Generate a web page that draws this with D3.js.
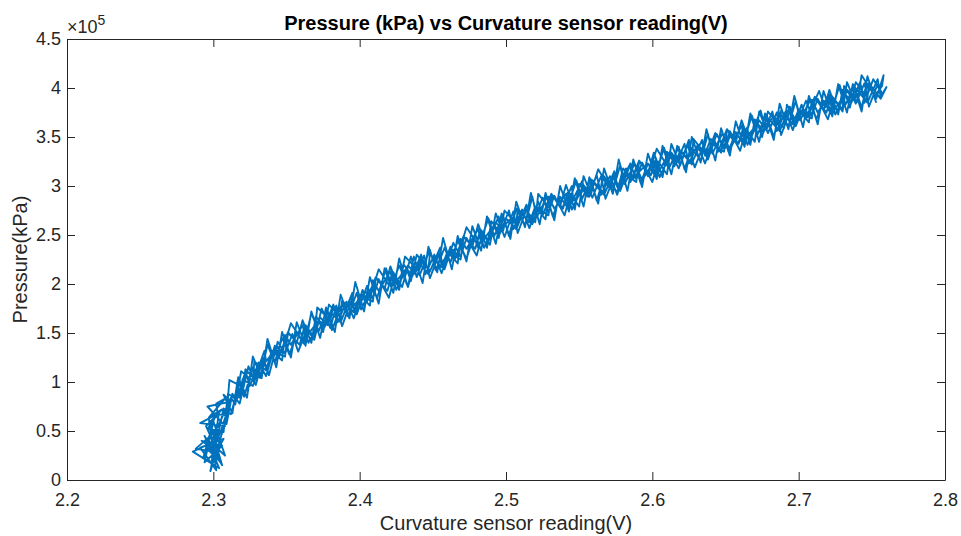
<!DOCTYPE html>
<html>
<head>
<meta charset="utf-8">
<script src="https://cdn.jsdelivr.net/npm/d3@7"></script>
<style>
  body { margin: 0; background: #fff; }
  svg { display: block; font-family: "Liberation Sans", Arial, Helvetica, sans-serif; }
</style>
</head>
<body>
<script>
// DATA ––––––––––––––––––––––––––––––––––––––––––––––––––––––––––––––––

  // [sensor reading (V), pressure (x 10^5)], in drawing order
  var sweepUp1 = [
    [2.301,0.55],[2.303,0.54],[2.312,0.84],[2.315,0.77],[2.319,1.11],[2.327,1.01],[2.328,1.21],[2.336,1.12],
    [2.340,1.32],[2.347,1.22],[2.349,1.48],[2.353,1.38],[2.361,1.58],[2.363,1.45],[2.372,1.63],[2.375,1.51],
    [2.379,1.79],[2.387,1.66],[2.388,1.83],[2.396,1.71],[2.400,1.89],[2.407,1.78],[2.409,2.04],[2.413,1.93],
    [2.421,2.13],[2.423,1.99],[2.432,2.16],[2.435,2.03],[2.439,2.30],[2.447,2.15],[2.448,2.31],[2.456,2.17],
    [2.460,2.33],[2.467,2.21],[2.469,2.46],[2.473,2.36],[2.481,2.56],[2.483,2.42],[2.492,2.60],[2.495,2.47],
    [2.499,2.75],[2.507,2.61],[2.508,2.77],[2.516,2.63],[2.520,2.79],[2.527,2.66],[2.529,2.89],[2.533,2.77],
    [2.541,2.92],[2.543,2.78],[2.552,3.05],[2.555,2.90],[2.559,3.06],[2.567,2.92],[2.568,3.07],[2.576,2.94],
    [2.580,3.18],[2.587,3.06],[2.589,3.20],[2.593,3.06],[2.601,3.25],[2.603,3.11],[2.612,3.35],[2.615,3.20],
    [2.619,3.36],[2.627,3.22],[2.628,3.48],[2.636,3.33],[2.640,3.48],[2.647,3.34],[2.649,3.50],[2.653,3.37],
    [2.661,3.62],[2.663,3.47],[2.672,3.64],[2.675,3.50],[2.679,3.76],[2.687,3.61],[2.688,3.77],[2.696,3.63],
    [2.700,3.78],[2.707,3.65],[2.709,3.88],[2.713,3.75],[2.721,3.93],[2.723,3.75],[2.732,3.94],[2.735,3.80],
    [2.739,4.06],[2.747,3.90],[2.748,4.05],[2.756,3.89],[2.760,4.01]
  ];

  var sweepDown1 = [
    [2.756,3.91],[2.754,4.09],[2.747,3.85],[2.740,3.98],[2.738,3.87],[2.733,3.97],[2.725,3.73],[2.722,3.90],
    [2.719,3.75],[2.711,3.90],[2.709,3.69],[2.701,3.77],[2.696,3.65],[2.694,3.81],[2.687,3.56],[2.680,3.68],
    [2.678,3.57],[2.673,3.67],[2.665,3.42],[2.662,3.59],[2.659,3.43],[2.651,3.57],[2.649,3.35],[2.641,3.43],
    [2.636,3.31],[2.634,3.47],[2.627,3.23],[2.620,3.35],[2.618,3.24],[2.613,3.34],[2.605,3.09],[2.602,3.26],
    [2.599,3.11],[2.591,3.25],[2.589,3.04],[2.581,3.12],[2.576,2.99],[2.574,3.15],[2.567,2.91],[2.560,3.03],
    [2.558,2.91],[2.553,3.01],[2.545,2.76],[2.542,2.93],[2.539,2.77],[2.531,2.91],[2.529,2.70],[2.521,2.78],
    [2.516,2.65],[2.514,2.81],[2.507,2.56],[2.500,2.67],[2.498,2.54],[2.493,2.63],[2.485,2.37],[2.482,2.53],
    [2.479,2.36],[2.471,2.48],[2.469,2.25],[2.461,2.32],[2.456,2.19],[2.454,2.32],[2.447,2.10],[2.440,2.22],
    [2.438,2.10],[2.433,2.19],[2.425,1.94],[2.422,2.10],[2.419,1.93],[2.411,2.06],[2.409,1.82],[2.401,1.88],
    [2.396,1.73],[2.394,1.87],[2.387,1.61],[2.380,1.71],[2.378,1.58],[2.373,1.66],[2.365,1.40],[2.362,1.55],
    [2.359,1.38],[2.351,1.50],[2.349,1.26],[2.341,1.31],[2.336,1.14],[2.334,1.25],[2.327,0.96],[2.320,1.03],
    [2.318,0.84],[2.313,0.87],[2.305,0.49],[2.302,0.52]
  ];

  var bottomCluster1 = [
    [2.297,0.30],[2.305,0.18],[2.299,0.38],[2.286,0.29],[2.304,0.12],[2.296,0.41],[2.308,0.25],[2.300,0.60],
    [2.293,0.22],[2.303,0.50],[2.298,0.09],[2.310,0.68],[2.301,0.35],[2.295,0.55],[2.306,0.72],[2.297,0.64],
    [2.308,0.83],[2.302,0.78]
  ];

  var sweepUp2 = [
    [2.303,0.67],[2.309,0.66],[2.311,1.02],[2.320,0.95],[2.322,1.13],[2.328,1.03],[2.335,1.32],[2.336,1.21],
    [2.344,1.36],[2.347,1.30],[2.353,1.60],[2.360,1.44],[2.363,1.58],[2.369,1.45],[2.371,1.76],[2.380,1.63],
    [2.382,1.78],[2.388,1.65],[2.395,1.91],[2.396,1.78],[2.404,1.92],[2.407,1.86],[2.413,2.15],[2.420,1.99],
    [2.423,2.12],[2.427,1.98],[2.431,2.28],[2.440,2.14],[2.442,2.27],[2.448,2.13],[2.455,2.37],[2.456,2.22],
    [2.464,2.35],[2.467,2.28],[2.473,2.58],[2.480,2.42],[2.483,2.55],[2.488,2.44],[2.495,2.69],[2.496,2.55],
    [2.504,2.68],[2.507,2.60],[2.513,2.77],[2.520,2.63],[2.522,2.92],[2.530,2.77],[2.532,2.90],[2.538,2.76],
    [2.545,3.00],[2.546,2.85],[2.554,2.97],[2.557,2.89],[2.563,3.17],[2.570,2.99],[2.573,3.11],[2.577,2.99],
    [2.585,3.23],[2.586,3.07],[2.594,3.19],[2.597,3.10],[2.603,3.38],[2.610,3.21],[2.613,3.33],[2.618,3.18],
    [2.625,3.47],[2.626,3.32],[2.634,3.45],[2.637,3.30],[2.643,3.54],[2.650,3.39],[2.653,3.51],[2.658,3.43],
    [2.665,3.60],[2.666,3.46],[2.674,3.77],[2.677,3.60],[2.683,3.71],[2.690,3.59],[2.692,3.83],[2.698,3.67],
    [2.705,3.79],[2.706,3.70],[2.714,3.97],[2.718,3.80],[2.722,3.93],[2.730,3.78],[2.731,4.02],[2.740,3.86],
    [2.743,4.13],[2.752,3.92],[2.757,4.02]
  ];

  var sweepDown2 = [
    [2.758,4.13],[2.753,3.89],[2.747,4.04],[2.743,3.80],[2.738,4.03],[2.732,3.83],[2.728,4.03],[2.722,3.74],
    [2.717,3.87],[2.712,3.68],[2.708,3.88],[2.701,3.67],[2.698,3.87],[2.693,3.61],[2.687,3.75],[2.683,3.50],
    [2.678,3.73],[2.672,3.53],[2.668,3.72],[2.662,3.43],[2.657,3.55],[2.652,3.35],[2.648,3.54],[2.641,3.33],
    [2.638,3.53],[2.633,3.26],[2.627,3.39],[2.622,3.17],[2.618,3.40],[2.612,3.20],[2.608,3.39],[2.602,3.10],
    [2.597,3.23],[2.592,3.03],[2.588,3.23],[2.581,3.02],[2.578,3.21],[2.573,2.95],[2.567,3.10],[2.562,2.85],
    [2.558,3.07],[2.552,2.87],[2.548,3.06],[2.542,2.78],[2.537,2.89],[2.532,2.69],[2.528,2.89],[2.521,2.68],
    [2.518,2.89],[2.513,2.60],[2.507,2.77],[2.502,2.49],[2.498,2.70],[2.492,2.49],[2.488,2.67],[2.481,2.37],
    [2.478,2.48],[2.473,2.26],[2.467,2.44],[2.462,2.22],[2.458,2.37],[2.452,2.14],[2.448,2.35],[2.441,2.09],
    [2.438,2.23],[2.433,1.97],[2.427,2.19],[2.422,1.98],[2.418,2.16],[2.412,1.86],[2.408,1.96],[2.401,1.74],
    [2.398,1.91],[2.392,1.67],[2.388,1.80],[2.381,1.53],[2.378,1.74],[2.372,1.52],[2.367,1.70],[2.362,1.39],
    [2.357,1.50],[2.352,1.28],[2.347,1.45],[2.342,1.20],[2.337,1.38],[2.332,1.04],[2.327,1.15],[2.321,0.85],
    [2.318,1.00],[2.312,0.67],[2.307,0.73],[2.302,0.38]
  ];

  var bottomCluster2 = [
    [2.300,0.25],[2.294,0.45],[2.306,0.15],[2.297,0.62],[2.302,0.10],[2.291,0.33],[2.307,0.42],[2.299,0.20],
    [2.304,0.70],[2.296,0.52]
  ];

  var sweepUp3 = [
    [2.307,0.49],[2.310,0.88],[2.316,0.82],[2.322,1.11],[2.325,0.96],[2.331,1.20],[2.336,1.06],[2.342,1.37],
    [2.345,1.26],[2.351,1.51],[2.357,1.40],[2.361,1.63],[2.367,1.40],[2.370,1.67],[2.376,1.56],[2.382,1.79],
    [2.385,1.61],[2.391,1.82],[2.396,1.65],[2.402,1.94],[2.405,1.82],[2.411,2.07],[2.417,1.95],[2.421,2.18],
    [2.427,1.94],[2.430,2.20],[2.436,2.08],[2.442,2.30],[2.445,2.10],[2.451,2.30],[2.456,2.11],[2.462,2.38],
    [2.465,2.25],[2.471,2.49],[2.477,2.38],[2.481,2.61],[2.487,2.37],[2.490,2.64],[2.496,2.52],[2.502,2.75],
    [2.505,2.56],[2.511,2.76],[2.516,2.57],[2.522,2.84],[2.525,2.70],[2.531,2.92],[2.537,2.79],[2.541,3.01],
    [2.547,2.76],[2.550,3.02],[2.556,2.89],[2.562,3.11],[2.565,2.91],[2.571,3.10],[2.576,2.91],[2.582,3.18],
    [2.585,3.04],[2.591,3.26],[2.597,3.13],[2.601,3.34],[2.607,3.09],[2.610,3.35],[2.616,3.22],[2.622,3.43],
    [2.625,3.23],[2.631,3.42],[2.636,3.23],[2.642,3.49],[2.645,3.35],[2.651,3.58],[2.657,3.45],[2.661,3.67],
    [2.667,3.42],[2.670,3.68],[2.676,3.55],[2.682,3.76],[2.685,3.56],[2.691,3.76],[2.696,3.57],[2.702,3.83],
    [2.705,3.69],[2.711,3.91],[2.717,3.77],[2.721,3.98],[2.727,3.73],[2.730,3.98],[2.736,3.85],[2.742,4.06],
    [2.745,3.85],[2.751,4.09],[2.757,3.94]
  ];

  var sweepDown3 = [
    [2.754,4.04],[2.748,3.81],[2.745,4.05],[2.739,3.84],[2.733,4.06],[2.730,3.76],[2.724,3.89],[2.720,3.68],
    [2.713,3.89],[2.709,3.72],[2.705,3.87],[2.698,3.61],[2.694,3.76],[2.688,3.52],[2.685,3.75],[2.679,3.54],
    [2.673,3.76],[2.670,3.45],[2.664,3.58],[2.660,3.36],[2.653,3.56],[2.649,3.38],[2.644,3.53],[2.638,3.27],
    [2.635,3.42],[2.629,3.19],[2.624,3.42],[2.619,3.21],[2.613,3.43],[2.610,3.12],[2.604,3.25],[2.600,3.04],
    [2.593,3.24],[2.589,3.07],[2.585,3.22],[2.578,2.95],[2.574,3.10],[2.568,2.87],[2.565,3.10],[2.559,2.88],
    [2.553,3.10],[2.550,2.79],[2.544,2.92],[2.540,2.70],[2.533,2.90],[2.529,2.73],[2.525,2.88],[2.518,2.61],
    [2.514,2.76],[2.508,2.52],[2.505,2.74],[2.499,2.48],[2.493,2.72],[2.489,2.40],[2.484,2.52],[2.480,2.29],
    [2.473,2.47],[2.469,2.28],[2.464,2.42],[2.458,2.15],[2.454,2.30],[2.448,2.06],[2.444,2.29],[2.439,2.07],
    [2.435,2.28],[2.429,1.97],[2.424,2.09],[2.420,1.86],[2.413,2.05],[2.409,1.85],[2.405,1.98],[2.398,1.69],
    [2.394,1.82],[2.388,1.57],[2.384,1.78],[2.380,1.55],[2.374,1.75],[2.369,1.43],[2.364,1.54],[2.358,1.31],
    [2.354,1.49],[2.349,1.29],[2.344,1.41],[2.338,1.07],[2.334,1.25],[2.329,0.97],[2.324,1.16],[2.318,0.78],
    [2.313,0.88],[2.309,0.57],[2.305,0.58]
  ];

  var bottomCluster3 = [
    [2.298,0.45],[2.288,0.32],[2.303,0.28],[2.292,0.40],[2.306,0.35],[2.294,0.18],[2.301,0.66],[2.291,0.58],
    [2.308,0.55],[2.296,0.75],[2.312,0.80]
  ];

  var sweepUp4 = [
    [2.307,0.87],[2.313,0.68],[2.317,1.05],[2.323,0.84],[2.327,1.26],[2.333,1.04],[2.337,1.44],[2.343,1.15],
    [2.347,1.51],[2.353,1.25],[2.357,1.61],[2.363,1.37],[2.367,1.72],[2.373,1.45],[2.377,1.76],[2.383,1.51],
    [2.387,1.89],[2.393,1.65],[2.397,2.02],[2.403,1.72],[2.407,2.07],[2.413,1.80],[2.417,2.16],[2.423,1.91],
    [2.427,2.26],[2.433,1.97],[2.437,2.28],[2.443,2.01],[2.447,2.38],[2.453,2.12],[2.457,2.47],[2.463,2.15],
    [2.467,2.49],[2.473,2.23],[2.477,2.59],[2.483,2.34],[2.487,2.69],[2.493,2.41],[2.497,2.72],[2.503,2.46],
    [2.507,2.84],[2.513,2.58],[2.517,2.93],[2.523,2.61],[2.527,2.93],[2.533,2.65],[2.537,3.00],[2.543,2.74],
    [2.547,3.08],[2.553,2.79],[2.557,3.09],[2.563,2.82],[2.567,3.18],[2.573,2.92],[2.577,3.27],[2.583,2.95],
    [2.587,3.27],[2.593,2.99],[2.597,3.33],[2.603,3.07],[2.607,3.41],[2.613,3.12],[2.617,3.41],[2.623,3.14],
    [2.627,3.50],[2.633,3.24],[2.637,3.58],[2.643,3.26],[2.647,3.59],[2.653,3.31],[2.657,3.66],[2.663,3.40],
    [2.667,3.74],[2.673,3.45],[2.677,3.74],[2.683,3.47],[2.687,3.84],[2.693,3.58],[2.697,3.92],[2.703,3.60],
    [2.707,3.92],[2.713,3.63],[2.717,3.97],[2.723,3.71],[2.727,4.04],[2.733,3.75],[2.737,4.04],[2.743,3.76],
    [2.747,4.12],[2.753,3.85]
  ];

  var xTicks = [2.2, 2.3, 2.4, 2.5, 2.6, 2.7, 2.8];
  var xTickLabels = ["2.2", "2.3", "2.4", "2.5", "2.6", "2.7", "2.8"];
  var yTicks = [0, 0.5, 1, 1.5, 2, 2.5, 3, 3.5, 4, 4.5];
  var yTickLabels = ["0", "0.5", "1", "1.5", "2", "2.5", "3", "3.5", "4", "4.5"];

  var titleText = "Pressure (kPa) vs Curvature sensor reading(V)";
  var xLabelText = "Curvature sensor reading(V)";
  var yLabelText = "Pressure(kPa)";

// DRAW ––––––––––––––––––––––––––––––––––––––––––––––––––––––––––––––––

  var drawChart = function() {
    let W = 961, H = 536,
        left = 67, right = 945, top = 39, bottom = 480,
        axisColor = "#262626",
        lineColor = "#0072BD";

    let svg = d3.select("body").append("svg")
      .attr("width", W)
      .attr("height", H);

    let x = d3.scaleLinear().domain([2.2, 2.8]).range([left, right]);
    let y = d3.scaleLinear().domain([0, 4.5]).range([bottom, top]);

    // one continuous trace: up, down, up, down ...
    let readings = sweepUp1.concat(sweepDown1, bottomCluster1, sweepUp2, sweepDown2,
                                   bottomCluster2, sweepUp3, sweepDown3, bottomCluster3, sweepUp4);

    let line = d3.line()
      .x(function(d) { return x(d[0]); })
      .y(function(d) { return y(d[1]); });

    svg.append("path")
      .datum(readings)
      .attr("fill", "none")
      .attr("stroke", lineColor)
      .attr("stroke-width", 1.9)
      .attr("stroke-linejoin", "round")
      .attr("d", line);

    // axes, ticks pointing inwards on all four sides
    let styleAxis = function(g, fontSize) {
      g.selectAll(".domain").attr("stroke", axisColor).attr("stroke-width", 1);
      g.selectAll(".tick line").attr("stroke", axisColor).attr("stroke-width", 1);
      g.selectAll(".tick text")
        .attr("fill", axisColor)
        .style("font-size", fontSize)
        .style("font-family", "'Liberation Sans', Arial, Helvetica, sans-serif");
    };

    svg.append("g")
      .attr("transform", "translate(0," + bottom + ")")
      .call(d3.axisBottom(x).tickValues(xTicks)
        .tickFormat(function(d, i) { return xTickLabels[i]; })
        .tickSizeInner(-8).tickSizeOuter(0).tickPadding(13))
      .call(styleAxis, "18px");

    svg.append("g")
      .attr("transform", "translate(0," + top + ")")
      .call(d3.axisTop(x).tickValues(xTicks).tickFormat("")
        .tickSizeInner(-8).tickSizeOuter(0))
      .call(styleAxis, "18px");

    svg.append("g")
      .attr("transform", "translate(" + left + ",0)")
      .call(d3.axisLeft(y).tickValues(yTicks)
        .tickFormat(function(d, i) { return yTickLabels[i]; })
        .tickSizeInner(-8).tickSizeOuter(0).tickPadding(6))
      .call(styleAxis, "18px");

    svg.append("g")
      .attr("transform", "translate(" + right + ",0)")
      .call(d3.axisRight(y).tickValues(yTicks).tickFormat("")
        .tickSizeInner(-8).tickSizeOuter(0))
      .call(styleAxis, "18px");

    // exponent above the y axis
    let expo = svg.append("text")
      .attr("x", 67)
      .attr("y", 33)
      .attr("fill", axisColor)
      .style("font-size", "18px");
    expo.append("tspan").text("\u00d710");
    expo.append("tspan").attr("dy", -8).style("font-size", "14px").text("5");

    // title and labels
    svg.append("text")
      .attr("x", (left + right) / 2)
      .attr("y", 30)
      .attr("text-anchor", "middle")
      .attr("fill", "#000")
      .style("font-size", "20px")
      .style("font-weight", "bold")
      .text(titleText);

    svg.append("text")
      .attr("x", (left + right) / 2)
      .attr("y", 530)
      .attr("text-anchor", "middle")
      .attr("fill", axisColor)
      .style("font-size", "20px")
      .text(xLabelText);

    svg.append("text")
      .attr("transform", "translate(27," + ((top + bottom) / 2) + ") rotate(-90)")
      .attr("text-anchor", "middle")
      .attr("fill", axisColor)
      .style("font-size", "20px")
      .text(yLabelText);
  };

// RUN ––––––––––––––––––––––––––––––––––––––––––––––––––––––––––––––––––

drawChart();
</script>
</body>
</html>
